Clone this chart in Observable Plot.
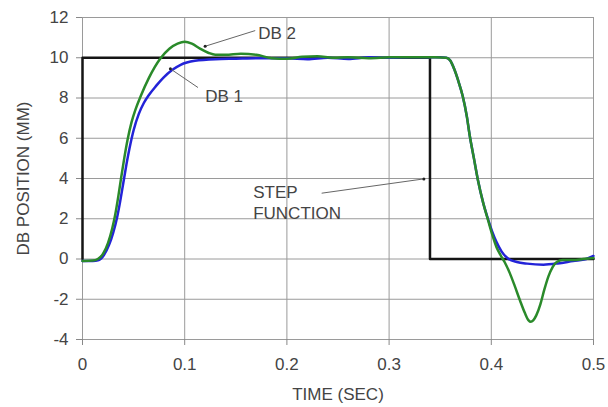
<!DOCTYPE html>
<html>
<head>
<meta charset="utf-8">
<script src="https://cdn.jsdelivr.net/npm/d3@7"></script>
<script src="https://cdn.jsdelivr.net/npm/@observablehq/plot@0.6"></script>
<style>
  html, body { margin: 0; padding: 0; background: #fff; }
</style>
</head>
<body>
<div id="chart"></div>
<script>
// Time (s) and position (mm)
const stepFn = [[0, 0], [0, 10], [0.34, 10], [0.34, 0], [0.5, 0]];

const db1 = [[0,-0.1],[0.01,-0.1],[0.016,-0.05],[0.021,0.2],[0.026,0.7],[0.03,1.3],[0.034,2.1],[0.037,2.9],[0.04,3.8],[0.043,4.7],[0.046,5.5],[0.05,6.4],[0.055,7.2],[0.06,7.75],[0.065,8.15],[0.072,8.6],[0.079,9.0],[0.088,9.4],[0.096,9.65],[0.11,9.85],[0.13,9.93],[0.15,9.95],[0.17,9.97],[0.2,9.97],[0.22,9.93],[0.24,10.0],[0.26,9.94],[0.28,10.02],[0.3,10.0],[0.32,10.02],[0.35,10.02],[0.356,10.0],[0.36,9.85],[0.364,9.4],[0.368,8.8],[0.372,8.1],[0.376,7.1],[0.379,6.1],[0.383,5.0],[0.387,3.9],[0.392,2.8],[0.397,1.95],[0.401,1.35],[0.405,0.85],[0.41,0.38],[0.417,0],[0.425,-0.15],[0.435,-0.23],[0.451,-0.28],[0.465,-0.22],[0.48,-0.1],[0.493,0],[0.5,0.15]];

const db2 = [[0,-0.1],[0.01,-0.08],[0.015,0],[0.02,0.25],[0.025,0.8],[0.029,1.5],[0.032,2.2],[0.035,3.1],[0.038,4.1],[0.041,5.05],[0.044,5.9],[0.048,6.8],[0.052,7.45],[0.057,8.1],[0.065,9.0],[0.076,9.95],[0.085,10.45],[0.093,10.7],[0.1,10.8],[0.107,10.7],[0.115,10.45],[0.123,10.25],[0.13,10.15],[0.14,10.15],[0.155,10.2],[0.17,10.15],[0.185,9.98],[0.2,9.95],[0.215,10.05],[0.23,10.08],[0.245,10.0],[0.26,10.02],[0.28,9.98],[0.3,10.02],[0.32,10.03],[0.345,10.03],[0.356,10.0],[0.36,9.85],[0.364,9.4],[0.368,8.8],[0.372,8.1],[0.376,7.1],[0.379,6.1],[0.383,5.0],[0.387,3.9],[0.392,2.8],[0.397,1.9],[0.401,1.2],[0.405,0.6],[0.409,0.2],[0.413,-0.15],[0.418,-0.69],[0.423,-1.35],[0.428,-2.05],[0.433,-2.7],[0.4365,-3.05],[0.4386,-3.12],[0.441,-3.05],[0.444,-2.8],[0.448,-2.25],[0.452,-1.5],[0.456,-0.85],[0.46,-0.4],[0.464,-0.15],[0.47,-0.05],[0.48,-0.05],[0.49,0],[0.5,0.05]];

const xTicks = [0, 0.1, 0.2, 0.3, 0.4, 0.5];
const yTicks = [-4, -2, 0, 2, 4, 6, 8, 10, 12];

// Annotation labels (text anchor position in data space)
const labels = [
  {t: 0.172, v: 11.25, text: "DB 2"},
  {t: 0.120, v: 8.13, text: "DB 1"},
  {t: 0.167, v: 2.85, text: "STEP\nFUNCTION"}
];
// Leader lines: from label to curve
const leaders = [
  {t1: 0.169, v1: 11.35, t2: 0.120, v2: 10.57},
  {t1: 0.113, v1: 8.52, t2: 0.086, v2: 9.45},
  {t1: 0.234, v1: 3.27, t2: 0.334, v2: 3.98}
];

const toObj = (arr) => arr.map(([t, v]) => ({t, v}));

const chart = Plot.plot({
  width: 608,
  height: 407,
  marginLeft: 82,
  marginRight: 15,
  marginTop: 17,
  marginBottom: 68,
  style: {fontFamily: "'Liberation Sans', Arial, sans-serif", fontSize: "17px", color: "#444", background: "#fff"},
  x: {domain: [0, 0.5]},
  y: {domain: [-4, 12]},
  marks: [
    Plot.ruleX(xTicks, {stroke: "#9a9a9a", strokeWidth: 1}),
    Plot.ruleY(yTicks, {stroke: "#9a9a9a", strokeWidth: 1}),
    Plot.axisX({ticks: xTicks, tickSize: 6, tickPadding: 12, stroke: "#888", tickFormat: d => String(d),
      label: "TIME (SEC)", labelAnchor: "center", labelArrow: false, labelOffset: 60}),
    Plot.axisY({ticks: yTicks, tickSize: 6, tickPadding: 8, stroke: "#888", tickFormat: d => String(d),
      label: "DB POSITION (MM)", labelAnchor: "center", labelArrow: false, labelOffset: 66}),
    Plot.line(toObj(stepFn), {x: "t", y: "v", stroke: "#151515", strokeWidth: 2.5, curve: "linear"}),
    Plot.line(toObj(db1), {x: "t", y: "v", stroke: "#2323d8", strokeWidth: 2.5, curve: "monotone-x"}),
    Plot.line(toObj(db2), {x: "t", y: "v", stroke: "#2a8a2a", strokeWidth: 2.5, curve: "monotone-x"}),
    Plot.link(leaders, {x1: "t1", y1: "v1", x2: "t2", y2: "v2", stroke: "#666", strokeWidth: 1}),
    Plot.dot(leaders, {x: "t2", y: "v2", r: 1.5, fill: "#222", stroke: null}),
    Plot.text(labels, {x: "t", y: "v", text: "text", textAnchor: "start", fill: "#444", fontSize: 17, lineHeight: 1.25})
  ]
});
document.getElementById("chart").appendChild(chart);
</script>
</body>
</html>
